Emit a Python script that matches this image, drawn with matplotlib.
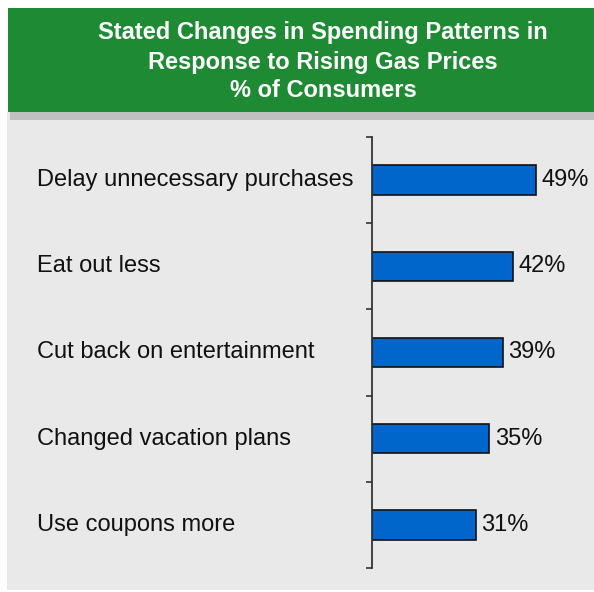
import matplotlib.pyplot as plt
from matplotlib.patches import Rectangle
from matplotlib.transforms import blended_transform_factory

plt.rcParams['font.family'] = ['Liberation Sans', 'DejaVu Sans']

title_lines = ['Stated Changes in Spending Patterns in',
               'Response to Rising Gas Prices',
               '% of Consumers']
categories = ['Delay unnecessary purchases', 'Eat out less',
              'Cut back on entertainment', 'Changed vacation plans',
              'Use coupons more']
values = [49, 42, 39, 35, 31]

W, H = 594, 592
fig = plt.figure(figsize=(W / 100, H / 100), dpi=100)
fig.patch.set_facecolor('white')


def box(x0, y0, x1, y1, color):
    # pixel box measured from the top-left corner
    fig.add_artist(Rectangle((x0 / W, 1 - y1 / H), (x1 - x0) / W, (y1 - y0) / H,
                             transform=fig.transFigure, facecolor=color,
                             edgecolor='none', zorder=0))


box(7, 112, 594, 590, '#e9e9e9')   # body panel
box(10, 112, 594, 120, '#c0c0c0')  # shadow under header
box(8, 8, 594, 112, '#1e8b34')     # green header

for line, base in zip(title_lines, [39, 69, 97]):
    fig.text(323 / W, 1 - base / H, line, ha='center', va='baseline',
             color='white', fontsize=17, fontweight='bold')

# axes: left edge at the bars' origin, one category per 86 px
ax = fig.add_axes([372 / W, 1 - 568 / H, 201 / W, (568 - 137) / H])
ax.set_facecolor('none')
ypos = list(range(len(categories)))
ax.barh(ypos, values, height=0.34, color='#0066cc', edgecolor='#111111',
        linewidth=1.2, zorder=3)
ax.set_xlim(0, 60)
ax.set_ylim(len(categories) - 0.5, -0.5)

for s in ['top', 'right', 'bottom']:
    ax.spines[s].set_visible(False)
ax.spines['left'].set_color('#333333')
ax.spines['left'].set_linewidth(1.3)
ax.spines['left'].set_zorder(4)
ax.set_xticks([])
ax.set_yticks([i - 0.5 for i in range(len(categories) + 1)])
ax.set_yticklabels([])
ax.tick_params(axis='y', direction='out', length=4, width=1.2, color='#333333')

trans = blended_transform_factory(fig.transFigure, ax.transData)
for y, cat in zip(ypos, categories):
    ax.text(37 / W, y, cat, transform=trans, ha='left', va='center',
            fontsize=17, color='#111111')

for y, v in zip(ypos, values):
    ax.annotate(f'{v}%', (v, y), xytext=(4, 0), textcoords='offset points',
                ha='left', va='center', fontsize=17, color='#111111')

fig.savefig('out.png', dpi=100)
